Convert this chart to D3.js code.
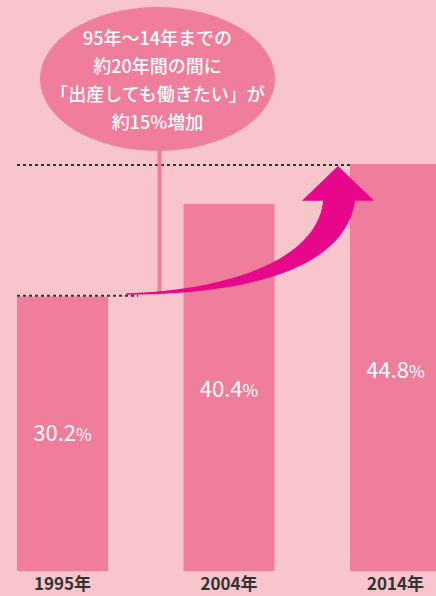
<!DOCTYPE html>
<html>
<head>
<meta charset="utf-8">
<script src="https://cdn.jsdelivr.net/npm/d3@7"></script>
<style>
  html, body { margin: 0; padding: 0; background: #f8c5cc; }
  svg { display: block; }
  text { font-family: "Noto Sans CJK JP", "Noto Sans", sans-serif; }
</style>
</head>
<body>
<script>
var years = ['1995年', '2004年', '2014年'];
var values = [30.2, 40.4, 44.8];
var bubbleLines = ['95年〜14年までの', '約20年間の間に', '「出産しても働きたい」が', '約15%増加'];

var W = 436, H = 596;
var barColor = '#f17d9c';
var arrowColor = '#e8068b';

var svg = d3.select('body').append('svg')
  .attr('width', W)
  .attr('height', H);

svg.append('rect')
  .attr('width', W).attr('height', H)
  .attr('fill', '#f8c5cc');

// x: bars 91px wide, 166.5px apart, last one runs off the right edge
var x = d3.scaleBand()
  .domain(years)
  .range([17, 441])
  .paddingInner(0.4535)
  .paddingOuter(0);

var y = d3.scaleLinear()
  .domain([0, 44.8])
  .range([571, 164]);

svg.selectAll('rect.bar')
  .data(values)
  .enter().append('rect')
  .attr('class', 'bar')
  .attr('x', function(d, i) { return x(years[i]); })
  .attr('y', function(d) { return y(d); })
  .attr('width', x.bandwidth())
  .attr('height', function(d) { return y(0) - y(d); })
  .attr('fill', barColor);

// value labels
var lbl = svg.selectAll('text.val')
  .data(values)
  .enter().append('text')
  .attr('class', 'val')
  .attr('x', function(d, i) { return x(years[i]) + x.bandwidth() / 2; })
  .attr('y', function(d) { return y(d) + (y(0) - y(d)) * 0.525; })
  .attr('text-anchor', 'middle')
  .attr('fill', '#fff')
  .style('font-size', '22px');
lbl.append('tspan').text(function(d) { return d.toFixed(1); });
lbl.append('tspan').style('font-size', '17px').text('%');

// year labels
svg.selectAll('text.year')
  .data(years)
  .enter().append('text')
  .attr('class', 'year')
  .attr('x', function(d) { return x(d) + x.bandwidth() / 2; })
  .attr('y', 590)
  .attr('text-anchor', 'middle')
  .attr('fill', '#333')
  .style('font-size', '17px')
  .style('font-weight', 'bold')
  .text(function(d) { return d; });

// dotted guide lines
svg.append('line')
  .attr('x1', x(years[0])).attr('x2', x(years[2]))
  .attr('y1', y(values[2]) + 1).attr('y2', y(values[2]) + 1)
  .attr('stroke', '#333').attr('stroke-width', 2)
  .attr('stroke-dasharray', '3,3');

svg.append('line')
  .attr('x1', x(years[0])).attr('x2', x(years[0]) + x.bandwidth() + 30)
  .attr('y1', y(values[0]) - 1).attr('y2', y(values[0]) - 1)
  .attr('stroke', '#333').attr('stroke-width', 2)
  .attr('stroke-dasharray', '3,3');

// bubble + stem
var bx = 157.5, by = 79;
svg.append('rect')
  .attr('x', bx).attr('y', by)
  .attr('width', 4)
  .attr('height', y(values[0]) - 4 - by)
  .attr('fill', barColor);

svg.append('ellipse')
  .attr('cx', bx).attr('cy', by)
  .attr('rx', 117.5).attr('ry', 72)
  .attr('fill', barColor);

svg.selectAll('text.bub')
  .data(bubbleLines)
  .enter().append('text')
  .attr('class', 'bub')
  .attr('x', bx)
  .attr('y', function(d, i) { return 45 + i * 28; })
  .attr('text-anchor', 'middle')
  .attr('fill', '#fff')
  .style('font-size', '18px')
  .style('font-weight', '500')
  .text(function(d) { return d; });

// curved arrow from 1995 level up to 2014 level
var tx = x(years[0]) + x.bandwidth() + 18, ty = y(values[0]) - 2;
var px = x(years[2]) - 12, py = y(values[2]) + 2;
var dx = px - tx, dy = ty - py;
function pt(fx, fy) { return (tx + fx * dx) + ',' + (ty - fy * dy); }
var arrow = 'M' + pt(0, 0) +
  'C' + pt(0.49, 0) + ' ' + pt(1.03, 0.15) + ' ' + pt(1.08, 0.73) +
  'L' + pt(1.17, 0.73) +
  'L' + pt(1, 1) +
  'L' + pt(0.83, 0.73) +
  'L' + pt(0.93, 0.73) +
  'C' + pt(0.9, 0.25) + ' ' + pt(0.45, 0.03) + ' ' + pt(0, 0.01) +
  'Z';
svg.append('path')
  .attr('d', arrow)
  .attr('fill', arrowColor);
</script>
</body>
</html>
